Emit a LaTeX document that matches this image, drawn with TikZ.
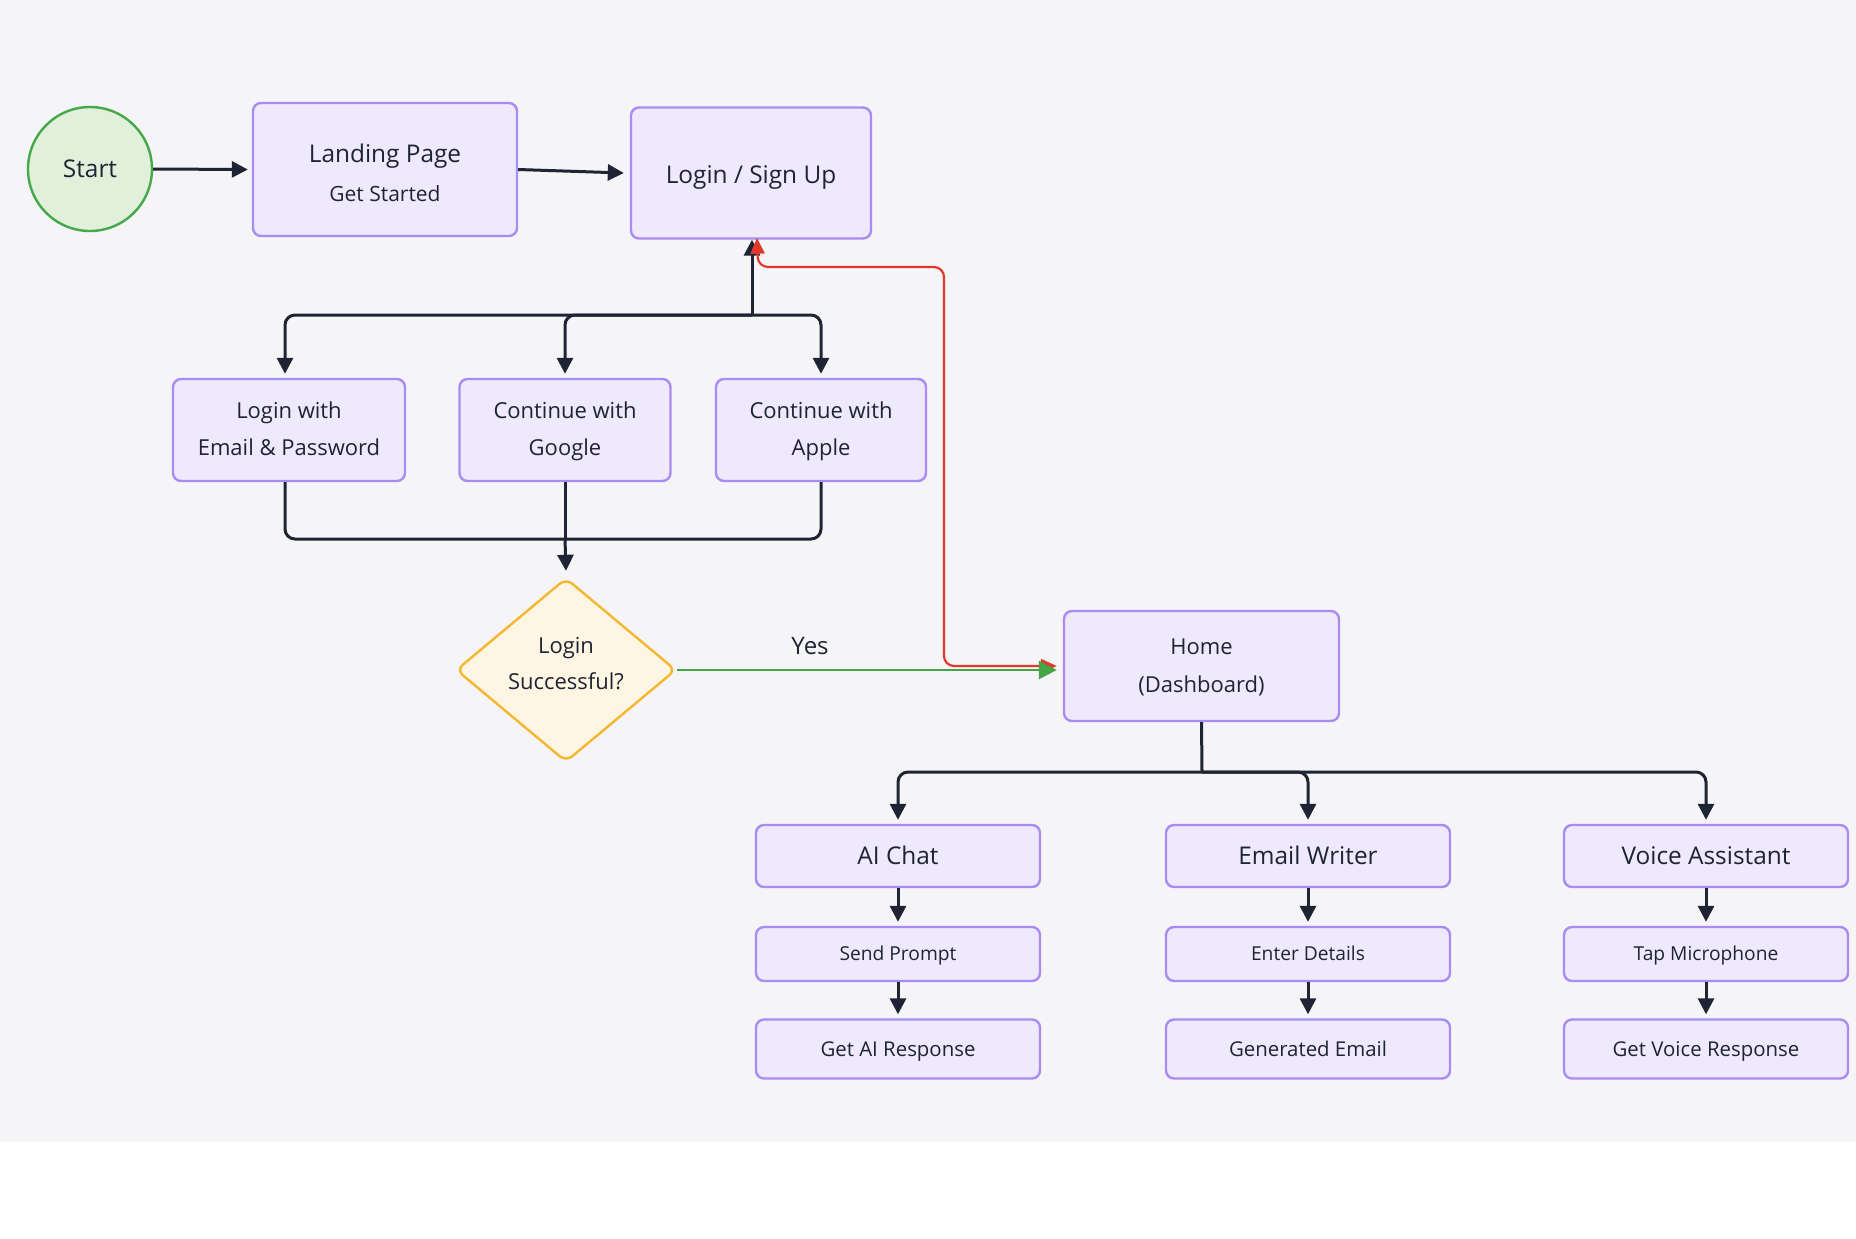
\documentclass[tikz,border=0pt]{standalone}
\usepackage{fontspec}
\setmainfont{Open Sans}
\usetikzlibrary{arrows.meta,shapes.geometric}
\definecolor{bgc}{HTML}{F5F5F7}
\definecolor{boxfill}{HTML}{EEE9FB}
\definecolor{boxline}{HTML}{A98BF3}
\definecolor{startfill}{HTML}{E0F0DA}
\definecolor{startline}{HTML}{45A84A}
\definecolor{decfill}{HTML}{FFF5E3}
\definecolor{decline}{HTML}{F5B731}
\definecolor{ink}{HTML}{1E2433}
\definecolor{redl}{HTML}{E0392B}
\definecolor{greenl}{HTML}{46A546}
\tikzset{
  flowbox/.style={draw=boxline, fill=boxfill, line width=1.2pt, rounded corners=4pt,
     minimum width=#1, align=center, inner sep=0pt, text=ink},
  startc/.style={circle, draw=startline, fill=startfill, line width=1.2pt, minimum size=62pt, inner sep=0pt, text=ink},
  decision/.style={diamond, draw=decline, fill=decfill, line width=1.2pt, rounded corners=4pt,
     minimum width=110pt, minimum height=92pt, inner sep=0pt},
  conn/.style={draw=ink, line width=1.5pt, rounded corners=5pt, -{Triangle[length=8pt,width=8pt]}},
  plain/.style={draw=ink, line width=1.5pt, rounded corners=5pt},
  backline/.style={draw=redl, line width=1.1pt, rounded corners=5pt},
  yesline/.style={draw=greenl, line width=1.3pt, -{Triangle[length=9pt,width=9pt]}},
  txt/.style={text=ink, inner sep=0pt, anchor=base},
  big/.style={font=\fontsize{12.2}{18}\selectfont, text height=8.7pt, text depth=0pt},
  mid/.style={font=\fontsize{11}{18.5}\selectfont},
  sml/.style={font=\fontsize{9.6}{12}\selectfont, text height=6.9pt, text depth=0pt},
  res/.style={font=\fontsize{10.2}{12}\selectfont, text height=7.3pt, text depth=0pt},
}
\begin{document}
\begin{tikzpicture}[x=0.5pt,y=-0.5pt]
\fill[white] (0,0) rectangle (1856,1238);
\fill[bgc] (0,0) rectangle (1856,1142);
\useasboundingbox (0,0) rectangle (1856,1238);

% nodes
\node[startc, big] (start) at (90,169) {Start};
\node[flowbox=132pt, minimum height=66.5pt] (landing) at (385,169.5) {};
\node[txt, font=\fontsize{12.2}{14}\selectfont] (landt) at (385,162) {Landing Page};
\node[txt, font=\fontsize{10.5}{12}\selectfont] (lands) at (385,201) {Get Started};
\node[flowbox=120pt, minimum height=65.5pt, big, text height=10.5pt] (login) at (751,173) {Login / Sign Up};

\node[flowbox=116pt, minimum height=51pt, mid] (email) at (289,430) {\strut Login with\\Email \& Password\strut};
\node[flowbox=105.5pt, minimum height=51pt, mid] (google) at (565,430) {\strut Continue with\\Google\strut};
\node[flowbox=105pt, minimum height=51pt, mid] (apple) at (821,430) {\strut Continue with\\Apple\strut};

\node[decision] (dec) at (566,670) {};
\node[txt, font=\fontsize{11}{13}\selectfont] (dect1) at (566,653) {Login};
\node[txt, font=\fontsize{11}{13}\selectfont] (dect2) at (566,689) {Successful?};
\node[flowbox=137.5pt, minimum height=55pt, font=\fontsize{11}{19}\selectfont] (home) at (1201.5,666) {\strut Home\\(Dashboard)\strut};

\node[flowbox=142pt, minimum height=31pt, big] (aichat) at (898,856) {AI Chat};
\node[flowbox=142pt, minimum height=31pt, big] (ewriter) at (1308,856) {Email Writer};
\node[flowbox=142pt, minimum height=31pt, big] (voice) at (1706,856) {Voice Assistant};

\node[flowbox=142pt, minimum height=27pt, sml] (prompt) at (898,954) {Send Prompt};
\node[flowbox=142pt, minimum height=27pt, sml] (details) at (1308,954) {Enter Details};
\node[flowbox=142pt, minimum height=27pt, sml] (mic) at (1706,954) {Tap Microphone};

\node[flowbox=142pt, minimum height=29.5pt, res] (airesp) at (898,1049) {Get AI Response};
\node[flowbox=142pt, minimum height=29.5pt, res] (gemail) at (1308,1049) {Generated Email};
\node[flowbox=142pt, minimum height=29.5pt, res] (vresp) at (1706,1049) {Get Voice Response};

% connectors top
\draw[conn, rounded corners=0pt] (start.east) -- ([xshift=-2pt]landing.west);
\draw[conn, rounded corners=0pt] (landing.east) -- ([xshift=-3pt]login.west);

% login tree
\coordinate (jt) at (752,315);
\draw[conn] (jt) -- ([xshift=0.5pt]login.south);
\draw[conn] (jt) -| ([yshift=2pt]email.north -| 285,0);
\draw[conn] (jt) -| ([yshift=2pt]google.north);
\draw[conn] (jt) -| ([yshift=2pt]apple.north);

% merge
\coordinate (jm) at (565,539);
\draw[plain] (email.south -| 285,0) |- (jm);
\draw[plain] (apple.south) |- (jm);
\draw[plain] (google.south) -- (jm);
\draw[conn] (jm) -- ([yshift=3pt]dec.north);

% red back edge
\coordinate (r1) at (944,666);
\coordinate (r2) at (944,267);
\coordinate (r3) at (758,267);
\draw[backline, {Triangle[length=8pt,width=7pt]}-{Triangle[length=8pt,width=7pt]}]
  ([xshift=-3pt]home.west) -- (r1) -- (r2) -- (r3) -- ([xshift=3pt,yshift=1pt]login.south);

% yes
\draw[yesline] (dec.east) -- node[txt, pos=0.35, yshift=8pt, font=\fontsize{12}{14}\selectfont] (yes) {Yes} ([xshift=-3pt]home.west |- dec.east);

% home tree
\coordinate (jh) at (1202,772);
\draw[plain] (home.south) -- (jh);
\draw[conn] (jh) -| ([yshift=2pt]aichat.north);
\draw[conn] (jh) -| ([yshift=2pt]ewriter.north);
\draw[conn] (jh) -| ([yshift=2pt]voice.north);

% chains
\draw[conn] (aichat.south) -- ([yshift=2pt]prompt.north);
\draw[conn] (prompt.south) -- ([yshift=2pt]airesp.north);
\draw[conn] (ewriter.south) -- ([yshift=2pt]details.north);
\draw[conn] (details.south) -- ([yshift=2pt]gemail.north);
\draw[conn] (voice.south) -- ([yshift=2pt]mic.north);
\draw[conn] (mic.south) -- ([yshift=2pt]vresp.north);
\end{tikzpicture}
\end{document}
